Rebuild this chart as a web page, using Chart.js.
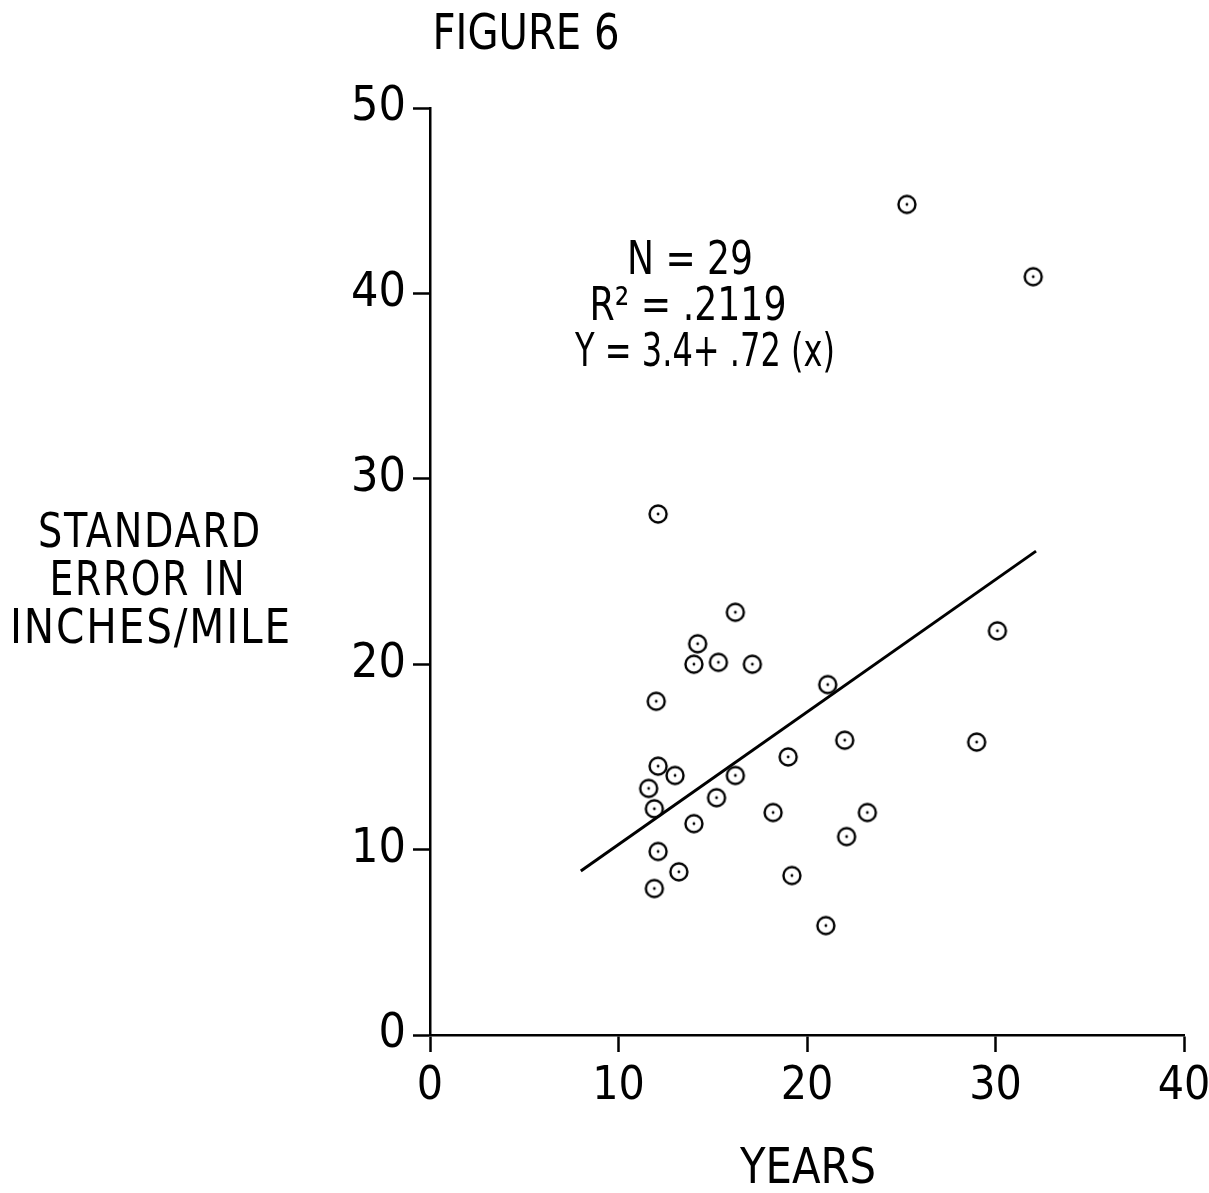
<!DOCTYPE html>
<html>
<head>
<meta charset="utf-8">
<script src="https://cdn.jsdelivr.net/npm/chart.js@4/dist/chart.umd.min.js"></script>
<style>
  html, body { margin: 0; padding: 0; background: #fff; }
  #wrap { width: 1209px; height: 1193px; position: relative; }
</style>
</head>
<body>
<div id="wrap"><canvas id="fig6"></canvas></div>
<script>
// values
const years  = [25.3, 32.0, 12.1, 16.2, 30.1, 14.2, 14.0, 15.3, 17.1, 12.0, 21.1, 22.0, 29.0, 19.0, 12.1,
                11.6, 13.0, 16.2, 15.2, 11.9, 18.2, 23.2, 14.0, 22.1, 12.1, 13.2, 19.2, 11.9, 21.0];
const stdErr = [44.8, 40.9, 28.1, 22.8, 21.8, 21.1, 20.0, 20.1, 20.0, 18.0, 18.9, 15.9, 15.8, 15.0, 14.5,
                13.3, 14.0, 14.0, 12.8, 12.2, 12.0, 12.0, 11.4, 10.7, 9.9, 8.8, 8.6, 7.9, 5.9];
// regression line ends as drawn
const fitX = [8.0, 32.15];
const fitY = [8.85, 26.1];
const xTicks = [0, 10, 20, 30, 40];
const yTicks = [0, 10, 20, 30, 40, 50];
const statsText = ["N = 29", "R\u00B2 = .2119", "Y = 3.4+ .72 (x)"];
const yTitle = ["STANDARD", "ERROR IN", "INCHES/MILE"];

const FONT = "'Liberation Sans Narrow', 'DejaVu Sans Condensed', 'Arial Narrow', sans-serif";

// circle with a dot in the middle
function dotCircle() {
    const c = document.createElement("canvas");
    c.width = 24; c.height = 24;
    const g = c.getContext("2d");
    g.strokeStyle = "#000";
    g.lineWidth = 2.4;
    g.beginPath();
    g.arc(12, 12, 8.5, 0, Math.PI * 2);
    g.stroke();
    g.fillStyle = "#000";
    g.beginPath();
    g.arc(12, 12, 1.4, 0, Math.PI * 2);
    g.fill();
    return c;
}

const points = years.map((x, i) => ({ x: x, y: stdErr[i] }));
const fitLine = fitX.map((x, i) => ({ x: x, y: fitY[i] }));

// titles and the stats block (maxWidth squeezes the font to the scan's narrow type)
const textPlugin = {
    id: "figText",
    afterDraw(chart) {
        const ctx = chart.ctx;
        ctx.save();
        ctx.fillStyle = "#000";
        ctx.textAlign = "center";
        ctx.textBaseline = "middle";

        ctx.font = "50px " + FONT;
        ctx.fillText("FIGURE 6", 526, 36, 187);
        ctx.fillText("YEARS", 808, 1170, 136);

        ctx.font = "48px " + FONT;
        ctx.letterSpacing = "2px";
        const yw = [224, 197, 282];
        const yx = [150, 148, 151];
        yTitle.forEach((t, i) => ctx.fillText(t, yx[i], 535 + i * 48, yw[i]));
        ctx.letterSpacing = "0px";

        ctx.font = "46px " + FONT;
        const sw = [126, 197, 260];
        const sx = [690, 688, 705];
        statsText.forEach((t, i) => ctx.fillText(t, sx[i], 262 + i * 46, sw[i]));
        ctx.restore();
    }
};

const ctx = document.getElementById("fig6").getContext("2d");
new Chart(ctx, {
    type: "scatter",
    data: {
        datasets: [
            {
                data: points,
                pointStyle: dotCircle(),
                pointRadius: 9,
                pointHoverRadius: 9
            },
            {
                data: fitLine,
                showLine: true,
                borderColor: "#000",
                borderWidth: 3,
                pointRadius: 0,
                pointHoverRadius: 0,
                fill: false
            }
        ]
    },
    options: {
        responsive: true,
        maintainAspectRatio: false,
        animation: false,
        events: [],
        layout: { padding: { top: 108, right: 25, left: 0, bottom: 0 } },
        plugins: {
            legend: { display: false },
            tooltip: { enabled: false }
        },
        scales: {
            x: {
                type: "linear",
                min: 0, max: 40,
                afterBuildTicks(scale) { scale.ticks = xTicks.map(v => ({ value: v })); },
                afterFit(scale) {
                    scale.height = 1193 - 1035;
                    scale.paddingLeft = 0;
                    scale.paddingRight = 0;
                },
                border: { display: true, color: "#000", width: 2.5 },
                grid: { display: true, drawOnChartArea: false, drawTicks: true, tickLength: 17, tickColor: "#000", tickWidth: 2.5 },
                ticks: { color: "#000", padding: 7, font: { family: FONT, size: 46 } }
            },
            y: {
                type: "linear",
                min: 0, max: 50,
                afterBuildTicks(scale) { scale.ticks = yTicks.map(v => ({ value: v })); },
                afterFit(scale) {
                    scale.width = 430;
                    scale.paddingTop = 0;
                    scale.paddingBottom = 0;
                },
                border: { display: true, color: "#000", width: 2.5 },
                grid: { display: true, drawOnChartArea: false, drawTicks: true, tickLength: 17, tickColor: "#000", tickWidth: 2.5 },
                ticks: { color: "#000", padding: 7, font: { family: FONT, size: 48 } }
            }
        }
    },
    plugins: [textPlugin]
});
</script>
</body>
</html>
